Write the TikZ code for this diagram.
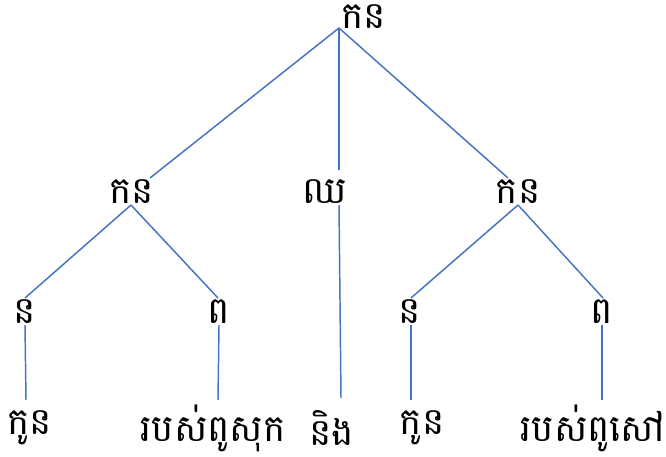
\documentclass[tikz,border=0pt]{standalone}
\usepackage{fontspec}
\newfontfamily\khmer[Script=Khmer]{Battambang}
\begin{document}
\begin{tikzpicture}[x=0.75pt,y=-0.75pt,
  lab/.style={font=\khmer\fontsize{28}{30}\selectfont, inner sep=0pt, text=black},
  edge/.style={line width=1.1pt, color={rgb,255:red,68;green,114;blue,196}}]
\useasboundingbox (0,0) rectangle (666,456);
% nodes
\node[lab] (top) at (364,17) {កន};
\node[lab] (l2a) at (132,192) {កន};
\node[lab] (l2b) at (325,192) {ឈ};
\node[lab] (l2c) at (518,192) {កន};
\node[lab] (l3a) at (25,312) {ន};
\node[lab] (l3b) at (219,312) {ព};
\node[lab] (l3c) at (410,312) {ន};
\node[lab] (l3d) at (602,312) {ព};
\node[lab] (f1) at (30,428) {កូន};
\node[lab] (f2) at (213,428) {របស់ពូសុក};
\node[lab] (f3) at (332,428) {និង};
\node[lab] (f4) at (422,428) {កូន};
\node[lab] (f5) at (593,428) {របស់ពូសៅ};
% connectors
\draw[edge] ([shift={(-25,11)}]top.center) -- ([shift={(18,-14)}]l2a.center);
\draw[edge] ([shift={(-25,11)}]top.center) -- ([shift={(14,-22)}]l2b.center);
\draw[edge] ([shift={(-25,11)}]top.center) -- ([shift={(-10,-14)}]l2c.center);
\draw[edge] ([shift={(-1,13)}]l2a.center) -- ([shift={(0,-14)}]l3a.center);
\draw[edge] ([shift={(-1,13)}]l2a.center) -- ([shift={(-1,-14)}]l3b.center);
\draw[edge] ([shift={(14,13)}]l2b.center) -- ([shift={(9,-30)}]f3.center);
\draw[edge] ([shift={(0,13)}]l2c.center) -- ([shift={(1,-14)}]l3c.center);
\draw[edge] ([shift={(0,13)}]l2c.center) -- ([shift={(1,-14)}]l3d.center);
\draw[edge] ([shift={(0,13)}]l3a.center) -- ([shift={(-4,-28)}]f1.center);
\draw[edge] ([shift={(0,13)}]l3b.center) -- ([shift={(5,-28)}]f2.center);
\draw[edge] ([shift={(1,13)}]l3c.center) -- ([shift={(-11,-28)}]f4.center);
\draw[edge] ([shift={(0,13)}]l3d.center) -- ([shift={(9,-28)}]f5.center);
\end{tikzpicture}
\end{document}
